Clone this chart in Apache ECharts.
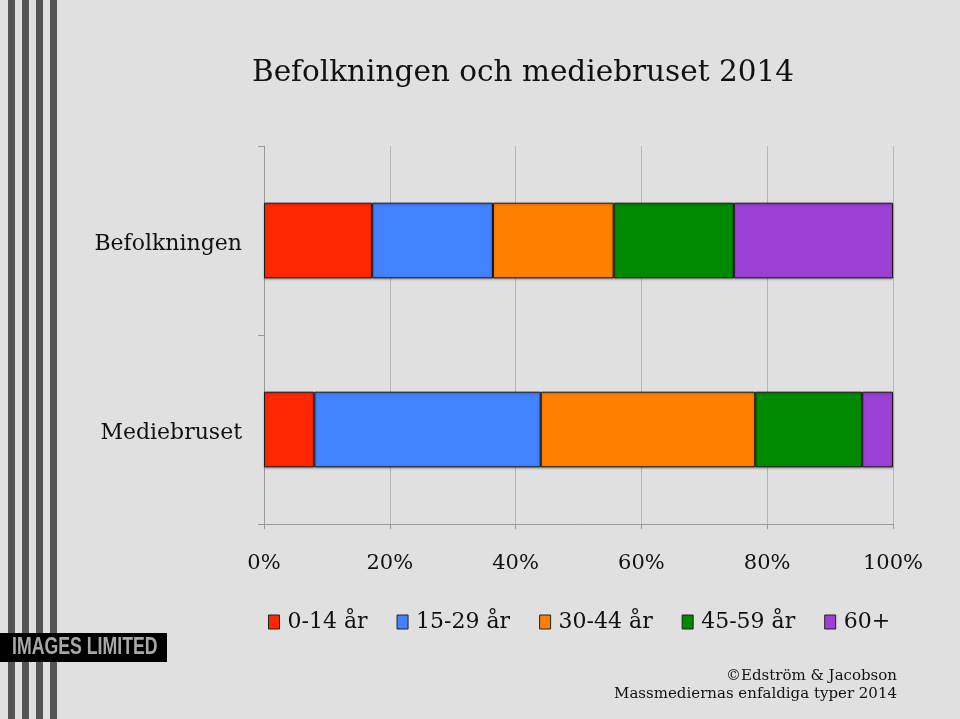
<!DOCTYPE html>
<html><head><meta charset="utf-8">
<script src="https://cdn.jsdelivr.net/npm/echarts@6/dist/echarts.min.js"></script>
<style>html,body{margin:0;padding:0;background:#e0e0e0;}#c{width:960px;height:719px;}</style>
</head><body><div id="c"></div>
<script>
const categories = ['Befolkningen', 'Mediebruset'];
const seriesNames = ['0-14 år', '15-29 år', '30-44 år', '45-59 år', '60+'];
const v0_14 = [17.2, 8.0];
const v15_29 = [19.2, 36.0];
const v30_44 = [19.2, 34.1];
const v45_59 = [19.1, 17.0];
const v60 = [25.3, 4.9];
const xTicks = [0, 20, 40, 60, 80, 100];
const colors = ['#ff2600', '#4282ff', '#ff8000', '#008a00', '#9b3fd5'];
const values = [v0_14, v15_29, v30_44, v45_59, v60];
const FONT = 'DejaVu Serif';

const chart = echarts.init(document.getElementById('c'));
const stripes = [8, 22, 36, 50].map(x => ({
  type: 'rect', shape: {x: x, y: 0, width: 7, height: 719},
  style: {fill: '#555555'}, z: 1
}));
chart.setOption({
  backgroundColor: '#e0e0e0',
  animation: false,
  color: colors,
  title: {
    text: 'Befolkningen och mediebruset 2014',
    left: 518, top: 53, textAlign: 'center',
    textStyle: {fontFamily: FONT, fontSize: 29.5, fontWeight: 'normal', color: '#111'}
  },
  legend: {
    left: 263, top: 606,
    itemWidth: 11, itemHeight: 14, itemGap: 29,
    icon: 'rect',
    textStyle: {fontFamily: FONT, fontSize: 22, color: '#111', padding: [0, 0, 0, 3]},
    itemStyle: {borderColor: '#222', borderWidth: 1},
    data: seriesNames
  },
  grid: {left: 264, right: 67, top: 146, bottom: 195, containLabel: false},
  xAxis: {
    type: 'value', min: 0, max: 100, interval: 20,
    axisLine: {show: true, lineStyle: {color: '#999'}},
    axisTick: {show: true, length: 5, lineStyle: {color: '#999'}},
    splitLine: {show: true, lineStyle: {color: '#b5b5b5', width: 1}},
    axisLabel: {
      margin: 29, fontFamily: FONT, fontSize: 21, color: '#111',
      formatter: v => xTicks.includes(v) ? v + '%' : ''
    }
  },
  yAxis: {
    type: 'category', data: categories, inverse: true,
    axisLine: {show: true, lineStyle: {color: '#999'}},
    axisTick: {show: true, length: 6, lineStyle: {color: '#999'}},
    axisLabel: {
      margin: 22, color: '#111',
      formatter: v => '{a|' + v + '}',
      rich: {a: {fontFamily: FONT, fontSize: 22, color: '#111', padding: [7, 0, 0, 0]}}
    }
  },
  graphic: stripes.concat([
    {type: 'rect', shape: {x: 0, y: 633, width: 167, height: 29}, style: {fill: '#000'}, z: 2},
    {type: 'text', x: 12, y: 636, z: 3, scaleX: 0.77,
     style: {text: 'IMAGES LIMITED', fill: '#a8a8a8', font: 'bold 23px "Liberation Sans", sans-serif'}},
    {type: 'text', x: 897, y: 669, z: 3,
     style: {text: '©Edström & Jacobson', fill: '#111', align: 'right', font: '15px "DejaVu Serif"'}},
    {type: 'text', x: 897, y: 687, z: 3,
     style: {text: 'Massmediernas enfaldiga typer 2014', fill: '#111', align: 'right', font: '15px "DejaVu Serif"'}}
  ]),
  series: seriesNames.map((n, i) => ({
    name: n, type: 'bar', stack: 'total', data: values[i], barWidth: '40%',
    itemStyle: {color: colors[i], borderColor: '#1a1a1a', borderWidth: 1,
                shadowColor: 'rgba(0,0,0,0.3)', shadowBlur: 2, shadowOffsetY: 1}
  }))
});
</script></body></html>
